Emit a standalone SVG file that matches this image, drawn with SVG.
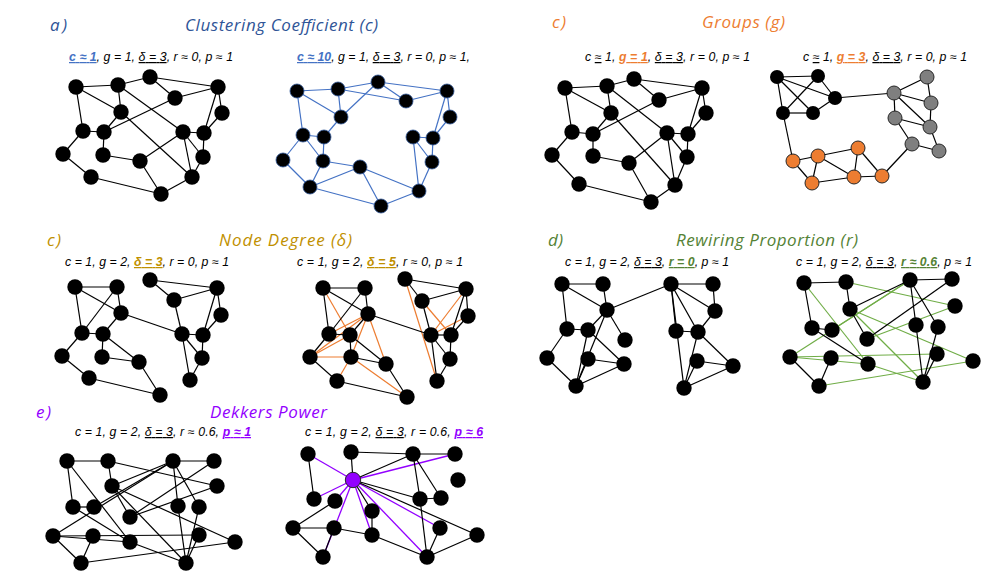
<svg xmlns="http://www.w3.org/2000/svg" width="999" height="585" viewBox="0 0 999 585">
<style>
.bg{fill:#fff}
.t{font-family:"Open Sans","Liberation Sans",sans-serif;font-style:italic;font-size:17px}
.s{font-family:"Liberation Sans",Arial,sans-serif;font-style:italic;font-size:12.3px;fill:#000}
.u{text-decoration:underline}
.b{font-weight:bold;text-decoration:underline}
.blue{fill:#2F5597}.org{fill:#ED7D31}.gold{fill:#BF9000}.grn{fill:#548235}.pur{fill:#9300FF}
.k line{stroke:#000;stroke-width:1.2}
.eb line{stroke:#4472C4;stroke-width:1.2}
.eo line{stroke:#ED7D31;stroke-width:1.2}
.eg line{stroke:#70AD47;stroke-width:1.2}
.ep line{stroke:#9300FF;stroke-width:1.3}
.nodes circle{fill:#000}
.nodes .gr circle{fill:#7F7F7F;stroke:#262626;stroke-width:1}
.nodes .or circle{fill:#ED7D31;stroke:#262626;stroke-width:1}
.nodes .pu circle{fill:#9300FF;stroke:#262626;stroke-width:1}
.nodes .bl circle{stroke:#2F5597;stroke-width:0.8}
</style>
<rect class="bg" x="0" y="0" width="999" height="585"/>

<!-- Titles -->
<g id="titles">
<text class="t blue" x="50" y="31" textLength="17">a)</text>
<text class="t blue" x="185" y="31" textLength="193">Clustering Coefficient (c)</text>
<text class="t org" x="552" y="28" textLength="14">c)</text>
<text class="t org" x="702" y="28" textLength="83">Groups (g)</text>
<text class="t gold" x="47" y="246" textLength="14">c)</text>
<text class="t gold" x="219" y="246" textLength="133">Node Degree (δ)</text>
<text class="t grn" x="548" y="246" textLength="15">d)</text>
<text class="t grn" x="676" y="246" textLength="182">Rewiring Proportion (r)</text>
<text class="t pur" x="36" y="418" textLength="15">e)</text>
<text class="t pur" x="210" y="418" textLength="117">Dekkers Power</text>
</g>

<!-- Subtitles -->
<g id="subtitles">
<text class="s" x="69" y="61" textLength="164"><tspan class="b" style="fill:#4472C4">c ≈ 1</tspan>, g = 1, <tspan class="u">δ = 3</tspan>, r ≈ 0, p ≈ 1</text>
<text class="s" x="297" y="61" textLength="173"><tspan class="b" style="fill:#4472C4">c ≈ 10</tspan>, g = 1, <tspan class="u">δ = 3</tspan>, r = 0, p ≈ 1,</text>
<text class="s" x="585" y="61" textLength="165">c <tspan class="u">≈</tspan> 1, <tspan class="b" style="fill:#ED7D31">g = 1</tspan>, <tspan class="u">δ = 3</tspan>, r = 0, p ≈ 1</text>
<text class="s" x="803" y="61" textLength="164">c <tspan class="u">≈</tspan> 1, <tspan class="b" style="fill:#ED7D31">g = 3</tspan>, <tspan class="u">δ = 3</tspan>, r = 0, p ≈ 1</text>
<text class="s" x="65" y="266" textLength="164">c = 1, g = 2, <tspan class="b" style="fill:#BF9000">δ = 3</tspan>, r = 0, p ≈ 1</text>
<text class="s" x="297" y="266" textLength="166">c = 1, g = 2, <tspan class="b" style="fill:#BF9000">δ = 5</tspan>, r ≈ 0, p ≈ 1</text>
<text class="s" x="565" y="266" textLength="164">c = 1, g = 2, <tspan class="u">δ = 3</tspan>, <tspan class="b" style="fill:#548235">r = 0</tspan>, p ≈ 1</text>
<text class="s" x="796" y="266" textLength="176">c = 1, g = 2, <tspan class="u">δ = 3</tspan>, <tspan class="b" style="fill:#548235">r ≈ 0.6</tspan>, p ≈ 1</text>
<text class="s" x="75" y="436" textLength="176">c = 1, g = 2, <tspan class="u">δ = 3</tspan>, r ≈ 0.6, <tspan class="b" style="fill:#9300FF">p ≈ 1</tspan></text>
<text class="s" x="305" y="436" textLength="178">c = 1, g = 2, <tspan class="u">δ = 3</tspan>, r = 0.6, <tspan class="b" style="fill:#9300FF">p ≈ 6</tspan></text>
</g>

<g id="connectors">
<!-- a left -->
<g class="k" id="edges-a1">
<line x1="76" y1="87" x2="118" y2="85"/><line x1="118" y1="85" x2="150" y2="77"/><line x1="150" y1="77" x2="175" y2="98"/><line x1="150" y1="77" x2="218" y2="87"/><line x1="175" y1="98" x2="218" y2="87"/>
<line x1="76" y1="87" x2="121" y2="112"/><line x1="76" y1="87" x2="83" y2="131"/><line x1="118" y1="85" x2="121" y2="112"/><line x1="118" y1="85" x2="183" y2="132"/><line x1="121" y1="112" x2="104" y2="132"/><line x1="121" y1="112" x2="192" y2="177"/><line x1="104" y1="132" x2="175" y2="98"/>
<line x1="83" y1="131" x2="104" y2="132"/><line x1="83" y1="131" x2="63" y2="154"/><line x1="104" y1="132" x2="103" y2="155"/><line x1="103" y1="155" x2="140" y2="161"/><line x1="140" y1="161" x2="183" y2="132"/><line x1="140" y1="161" x2="161" y2="194"/>
<line x1="63" y1="154" x2="91" y2="177"/><line x1="91" y1="177" x2="161" y2="194"/><line x1="161" y1="194" x2="192" y2="177"/><line x1="192" y1="177" x2="203" y2="157"/><line x1="203" y1="157" x2="204" y2="133"/><line x1="204" y1="133" x2="183" y2="132"/><line x1="183" y1="132" x2="192" y2="177"/><line x1="183" y1="132" x2="203" y2="157"/><line x1="204" y1="133" x2="218" y2="87"/><line x1="218" y1="87" x2="222" y2="113"/><line x1="222" y1="113" x2="204" y2="133"/>
</g>
<!-- a right -->
<g class="eb" id="edges-a2">
<line x1="297" y1="91" x2="338" y2="89"/><line x1="297" y1="91" x2="341" y2="117"/><line x1="297" y1="91" x2="303" y2="135"/><line x1="338" y1="89" x2="378" y2="82"/><line x1="338" y1="89" x2="341" y2="117"/><line x1="338" y1="89" x2="406" y2="101"/><line x1="378" y1="82" x2="406" y2="101"/><line x1="378" y1="82" x2="447" y2="91"/><line x1="378" y1="82" x2="341" y2="117"/><line x1="406" y1="101" x2="447" y2="91"/>
<line x1="447" y1="91" x2="450" y2="117"/><line x1="447" y1="91" x2="433" y2="138"/><line x1="450" y1="117" x2="433" y2="138"/><line x1="341" y1="117" x2="324" y2="137"/><line x1="303" y1="135" x2="324" y2="137"/><line x1="303" y1="135" x2="283" y2="160"/><line x1="303" y1="135" x2="323" y2="161"/><line x1="324" y1="137" x2="323" y2="161"/>
<line x1="283" y1="160" x2="310" y2="187"/><line x1="323" y1="161" x2="310" y2="187"/><line x1="323" y1="161" x2="360" y2="167"/><line x1="360" y1="167" x2="310" y2="187"/><line x1="360" y1="167" x2="381" y2="206"/><line x1="360" y1="167" x2="419" y2="191"/><line x1="310" y1="187" x2="381" y2="206"/><line x1="381" y1="206" x2="419" y2="191"/><line x1="419" y1="191" x2="432" y2="162"/><line x1="432" y1="162" x2="433" y2="138"/><line x1="413" y1="137" x2="433" y2="138"/><line x1="413" y1="137" x2="432" y2="162"/><line x1="413" y1="137" x2="419" y2="191"/>
</g>
<!-- groups left -->
<g class="k" id="edges-g1">
<line x1="565" y1="88" x2="607" y2="86"/><line x1="607" y1="86" x2="634" y2="79"/><line x1="634" y1="79" x2="659" y2="100"/><line x1="634" y1="79" x2="702" y2="88"/><line x1="659" y1="100" x2="702" y2="88"/>
<line x1="565" y1="88" x2="611" y2="113"/><line x1="565" y1="88" x2="572" y2="132"/><line x1="607" y1="86" x2="611" y2="113"/><line x1="607" y1="86" x2="667" y2="133"/><line x1="611" y1="113" x2="593" y2="134"/><line x1="611" y1="113" x2="675" y2="185"/><line x1="593" y1="134" x2="659" y2="100"/>
<line x1="572" y1="132" x2="593" y2="134"/><line x1="572" y1="132" x2="552" y2="155"/><line x1="593" y1="134" x2="593" y2="156"/><line x1="593" y1="156" x2="629" y2="163"/><line x1="629" y1="163" x2="667" y2="133"/><line x1="629" y1="163" x2="651" y2="202"/>
<line x1="552" y1="155" x2="579" y2="184"/><line x1="579" y1="184" x2="651" y2="202"/><line x1="651" y1="202" x2="675" y2="185"/><line x1="675" y1="185" x2="687" y2="157"/><line x1="687" y1="157" x2="688" y2="134"/><line x1="688" y1="134" x2="667" y2="133"/><line x1="667" y1="133" x2="675" y2="185"/><line x1="667" y1="133" x2="687" y2="157"/><line x1="688" y1="134" x2="702" y2="88"/><line x1="702" y1="88" x2="706" y2="113"/><line x1="706" y1="113" x2="688" y2="134"/>
</g>
<!-- groups right -->
<g class="k" id="edges-g3">
<line x1="777" y1="77" x2="818" y2="76"/><line x1="777" y1="77" x2="835" y2="98"/><line x1="777" y1="77" x2="783" y2="113"/><line x1="777" y1="77" x2="813" y2="113"/><line x1="818" y1="76" x2="783" y2="113"/><line x1="818" y1="76" x2="835" y2="98"/><line x1="835" y1="98" x2="813" y2="113"/><line x1="783" y1="113" x2="813" y2="113"/>
<line x1="835" y1="98" x2="894" y2="93"/><line x1="783" y1="113" x2="793" y2="161"/>
<line x1="894" y1="93" x2="927" y2="77"/><line x1="894" y1="93" x2="931" y2="103"/><line x1="894" y1="93" x2="895" y2="118"/><line x1="894" y1="93" x2="930" y2="127"/><line x1="927" y1="77" x2="931" y2="103"/><line x1="931" y1="103" x2="930" y2="127"/><line x1="895" y1="118" x2="930" y2="127"/><line x1="895" y1="118" x2="912" y2="144"/><line x1="930" y1="127" x2="939" y2="151"/><line x1="912" y1="144" x2="939" y2="151"/><line x1="912" y1="144" x2="882" y2="176"/>
<line x1="793" y1="161" x2="818" y2="156"/><line x1="793" y1="161" x2="812" y2="183"/><line x1="818" y1="156" x2="812" y2="183"/><line x1="818" y1="156" x2="858" y2="148"/><line x1="818" y1="156" x2="854" y2="177"/><line x1="858" y1="148" x2="854" y2="177"/><line x1="858" y1="148" x2="882" y2="176"/><line x1="812" y1="183" x2="854" y2="177"/><line x1="854" y1="177" x2="882" y2="176"/>
</g>
<!-- node degree left -->
<g class="k" id="edges-d3">
<line x1="75" y1="287" x2="117" y2="287"/><line x1="75" y1="287" x2="121" y2="313"/><line x1="75" y1="287" x2="82" y2="333"/><line x1="117" y1="287" x2="121" y2="313"/><line x1="117" y1="287" x2="82" y2="333"/><line x1="121" y1="313" x2="103" y2="334"/><line x1="121" y1="313" x2="182" y2="334"/><line x1="82" y1="333" x2="103" y2="334"/><line x1="82" y1="333" x2="62" y2="356"/><line x1="103" y1="334" x2="102" y2="357"/><line x1="103" y1="334" x2="139" y2="362"/><line x1="62" y1="356" x2="89" y2="378"/><line x1="102" y1="357" x2="139" y2="362"/><line x1="89" y1="378" x2="160" y2="395"/><line x1="139" y1="362" x2="160" y2="395"/>
<line x1="150" y1="280" x2="217" y2="288"/><line x1="150" y1="280" x2="174" y2="300"/><line x1="174" y1="300" x2="217" y2="288"/><line x1="174" y1="300" x2="182" y2="334"/><line x1="217" y1="288" x2="203" y2="335"/><line x1="217" y1="288" x2="221" y2="315"/><line x1="221" y1="315" x2="203" y2="335"/><line x1="182" y1="334" x2="203" y2="335"/><line x1="182" y1="334" x2="202" y2="358"/><line x1="182" y1="334" x2="190" y2="380"/><line x1="203" y1="335" x2="202" y2="358"/><line x1="202" y1="358" x2="190" y2="380"/>
</g>
<!-- node degree right -->
<g class="eo" id="edges-d5o">
<line x1="323" y1="288" x2="350" y2="335"/><line x1="368" y1="314" x2="329" y2="334"/><line x1="368" y1="314" x2="310" y2="357"/><line x1="310" y1="357" x2="350" y2="335"/><line x1="310" y1="357" x2="351" y2="357"/><line x1="368" y1="314" x2="351" y2="357"/><line x1="368" y1="314" x2="386" y2="364"/><line x1="351" y1="357" x2="407" y2="397"/><line x1="337" y1="381" x2="351" y2="357"/>
<line x1="405" y1="279" x2="437" y2="381"/><line x1="422" y1="301" x2="451" y2="335"/><line x1="466" y1="289" x2="431" y2="335"/><line x1="468" y1="316" x2="431" y2="335"/>
</g>
<g class="k" id="edges-d5">
<line x1="323" y1="288" x2="365" y2="288"/><line x1="323" y1="288" x2="368" y2="314"/><line x1="323" y1="288" x2="329" y2="334"/><line x1="365" y1="288" x2="368" y2="314"/><line x1="365" y1="288" x2="329" y2="334"/><line x1="368" y1="314" x2="350" y2="335"/><line x1="368" y1="314" x2="431" y2="335"/><line x1="329" y1="334" x2="350" y2="335"/><line x1="329" y1="334" x2="310" y2="357"/><line x1="350" y1="335" x2="351" y2="357"/><line x1="350" y1="335" x2="386" y2="364"/><line x1="310" y1="357" x2="337" y2="381"/><line x1="351" y1="357" x2="386" y2="364"/><line x1="337" y1="381" x2="407" y2="397"/><line x1="386" y1="364" x2="407" y2="397"/>
<line x1="405" y1="279" x2="466" y2="289"/><line x1="405" y1="279" x2="422" y2="301"/><line x1="422" y1="301" x2="466" y2="289"/><line x1="422" y1="301" x2="431" y2="335"/><line x1="466" y1="289" x2="451" y2="335"/><line x1="466" y1="289" x2="468" y2="316"/><line x1="468" y1="316" x2="451" y2="335"/><line x1="431" y1="335" x2="451" y2="335"/><line x1="431" y1="335" x2="450" y2="359"/><line x1="431" y1="335" x2="437" y2="381"/><line x1="451" y1="335" x2="450" y2="359"/><line x1="450" y1="359" x2="437" y2="381"/>
</g>
<!-- rewiring left -->
<g class="k" id="edges-r0">
<line x1="562" y1="284" x2="603" y2="284"/><line x1="562" y1="284" x2="607" y2="310"/><line x1="562" y1="284" x2="567" y2="329"/><line x1="603" y1="284" x2="607" y2="310"/><line x1="607" y1="310" x2="588" y2="330"/><line x1="607" y1="310" x2="625" y2="340"/><line x1="607" y1="310" x2="576" y2="386"/><line x1="607" y1="310" x2="671" y2="284"/><line x1="567" y1="329" x2="588" y2="330"/><line x1="567" y1="329" x2="547" y2="358"/><line x1="588" y1="330" x2="624" y2="364"/><line x1="588" y1="330" x2="576" y2="386"/><line x1="547" y1="358" x2="576" y2="386"/><line x1="588" y1="359" x2="624" y2="364"/><line x1="588" y1="359" x2="576" y2="386"/><line x1="576" y1="386" x2="624" y2="364"/>
<line x1="671" y1="284" x2="713" y2="284"/><line x1="671" y1="284" x2="715" y2="311"/><line x1="671" y1="284" x2="676" y2="331"/><line x1="671" y1="284" x2="698" y2="332"/><line x1="671" y1="284" x2="684" y2="388"/><line x1="713" y1="284" x2="715" y2="311"/><line x1="715" y1="311" x2="698" y2="332"/><line x1="676" y1="331" x2="698" y2="332"/><line x1="698" y1="332" x2="733" y2="366"/><line x1="698" y1="332" x2="684" y2="388"/><line x1="697" y1="361" x2="733" y2="366"/><line x1="697" y1="361" x2="684" y2="388"/><line x1="733" y1="366" x2="684" y2="388"/>
</g>
<!-- rewiring right -->
<g class="eg" id="edges-r6g">
<line x1="804" y1="283" x2="868" y2="364"/><line x1="846" y1="282" x2="955" y2="306"/><line x1="850" y1="309" x2="973" y2="361"/><line x1="832" y1="330" x2="910" y2="280"/><line x1="790" y1="357" x2="910" y2="280"/><line x1="867" y1="339" x2="955" y2="306"/><line x1="790" y1="357" x2="937" y2="354"/><line x1="819" y1="386" x2="973" y2="361"/><line x1="868" y1="364" x2="923" y2="382"/><line x1="790" y1="357" x2="868" y2="364"/><line x1="850" y1="309" x2="923" y2="382"/>
</g>
<g class="k" id="edges-r6">
<line x1="804" y1="283" x2="846" y2="282"/><line x1="804" y1="283" x2="812" y2="328"/><line x1="846" y1="282" x2="850" y2="309"/><line x1="850" y1="309" x2="867" y2="339"/><line x1="812" y1="328" x2="832" y2="330"/><line x1="812" y1="328" x2="868" y2="364"/><line x1="790" y1="357" x2="819" y2="386"/><line x1="831" y1="358" x2="819" y2="386"/><line x1="910" y1="280" x2="952" y2="279"/><line x1="910" y1="280" x2="916" y2="325"/><line x1="910" y1="280" x2="938" y2="327"/><line x1="850" y1="309" x2="910" y2="280"/><line x1="952" y1="279" x2="867" y2="339"/><line x1="916" y1="325" x2="923" y2="382"/><line x1="938" y1="327" x2="923" y2="382"/><line x1="937" y1="354" x2="923" y2="382"/>
</g>
<!-- dekkers left -->
<g class="k" id="edges-p1">
<line x1="67" y1="461" x2="108" y2="461"/><line x1="67" y1="461" x2="73" y2="507"/><line x1="108" y1="461" x2="112" y2="486"/><line x1="112" y1="486" x2="130" y2="517"/><line x1="73" y1="507" x2="94" y2="507"/><line x1="73" y1="507" x2="130" y2="542"/><line x1="53" y1="536" x2="81" y2="563"/><line x1="93" y1="536" x2="81" y2="563"/><line x1="173" y1="461" x2="214" y2="461"/><line x1="173" y1="461" x2="178" y2="506"/><line x1="173" y1="461" x2="199" y2="507"/><line x1="112" y1="486" x2="173" y2="461"/><line x1="214" y1="461" x2="130" y2="517"/><line x1="178" y1="506" x2="186" y2="563"/><line x1="199" y1="507" x2="186" y2="563"/><line x1="199" y1="535" x2="186" y2="563"/>
<line x1="67" y1="461" x2="130" y2="542"/><line x1="108" y1="461" x2="217" y2="486"/><line x1="112" y1="486" x2="235" y2="542"/><line x1="94" y1="507" x2="173" y2="461"/><line x1="53" y1="536" x2="173" y2="461"/><line x1="130" y1="517" x2="217" y2="486"/><line x1="53" y1="536" x2="199" y2="535"/><line x1="81" y1="563" x2="235" y2="542"/><line x1="130" y1="542" x2="186" y2="563"/><line x1="53" y1="536" x2="130" y2="542"/><line x1="112" y1="486" x2="186" y2="563"/>
</g>
<!-- dekkers right -->
<g class="ep" id="edges-p6p">
<line x1="353" y1="480" x2="308" y2="454"/><line x1="353" y1="480" x2="455" y2="454"/><line x1="353" y1="480" x2="314" y2="499"/><line x1="353" y1="480" x2="335" y2="501"/><line x1="353" y1="480" x2="323" y2="557"/><line x1="353" y1="480" x2="372" y2="535"/><line x1="353" y1="480" x2="440" y2="528"/><line x1="353" y1="480" x2="427" y2="557"/>
</g>
<g class="k" id="edges-p6">
<line x1="308" y1="454" x2="314" y2="499"/><line x1="351" y1="452" x2="353" y2="480"/><line x1="351" y1="452" x2="413" y2="454"/><line x1="353" y1="480" x2="413" y2="454"/><line x1="413" y1="454" x2="455" y2="454"/><line x1="413" y1="454" x2="420" y2="499"/><line x1="413" y1="454" x2="441" y2="498"/><line x1="420" y1="499" x2="441" y2="498"/><line x1="420" y1="499" x2="427" y2="557"/><line x1="353" y1="480" x2="372" y2="511"/><line x1="353" y1="480" x2="420" y2="499"/><line x1="353" y1="480" x2="477" y2="535"/><line x1="335" y1="501" x2="293" y2="528"/><line x1="293" y1="528" x2="334" y2="528"/><line x1="293" y1="528" x2="323" y2="557"/><line x1="334" y1="528" x2="323" y2="557"/><line x1="334" y1="528" x2="372" y2="535"/><line x1="372" y1="511" x2="372" y2="535"/><line x1="372" y1="535" x2="427" y2="557"/><line x1="440" y1="528" x2="427" y2="557"/><line x1="477" y1="535" x2="427" y2="557"/>
</g>
</g>

<g class="nodes" id="nodes">
<!-- a left -->
<g id="a1-1"><circle cx="76" cy="87" r="7.7"/></g><g id="a1-2"><circle cx="118" cy="85" r="7.7"/></g><g id="a1-3"><circle cx="150" cy="77" r="7.7"/></g><g id="a1-4"><circle cx="175" cy="98" r="7.7"/></g><g id="a1-5"><circle cx="218" cy="87" r="7.7"/></g><g id="a1-6"><circle cx="222" cy="113" r="7.7"/></g><g id="a1-7"><circle cx="121" cy="112" r="7.7"/></g><g id="a1-8"><circle cx="83" cy="131" r="7.7"/></g><g id="a1-9"><circle cx="104" cy="132" r="7.7"/></g><g id="a1-10"><circle cx="183" cy="132" r="7.7"/></g><g id="a1-11"><circle cx="204" cy="133" r="7.7"/></g><g id="a1-12"><circle cx="63" cy="154" r="7.7"/></g><g id="a1-13"><circle cx="103" cy="155" r="7.7"/></g><g id="a1-14"><circle cx="140" cy="161" r="7.7"/></g><g id="a1-15"><circle cx="203" cy="157" r="7.7"/></g><g id="a1-16"><circle cx="91" cy="177" r="7.7"/></g><g id="a1-17"><circle cx="192" cy="177" r="7.7"/></g><g id="a1-18"><circle cx="161" cy="194" r="7.7"/></g>
<!-- a right -->
<g class="bl"><g id="a2-1"><circle cx="297" cy="91" r="7"/></g><g id="a2-2"><circle cx="338" cy="89" r="7"/></g><g id="a2-3"><circle cx="378" cy="82" r="7"/></g><g id="a2-4"><circle cx="406" cy="101" r="7"/></g><g id="a2-5"><circle cx="447" cy="91" r="7"/></g><g id="a2-6"><circle cx="450" cy="117" r="7"/></g><g id="a2-7"><circle cx="341" cy="117" r="7"/></g><g id="a2-8"><circle cx="303" cy="135" r="7"/></g><g id="a2-9"><circle cx="324" cy="137" r="7"/></g><g id="a2-10"><circle cx="413" cy="137" r="7"/></g><g id="a2-11"><circle cx="433" cy="138" r="7"/></g><g id="a2-12"><circle cx="283" cy="160" r="7"/></g><g id="a2-13"><circle cx="323" cy="161" r="7"/></g><g id="a2-14"><circle cx="360" cy="167" r="7"/></g><g id="a2-15"><circle cx="432" cy="162" r="7"/></g><g id="a2-16"><circle cx="310" cy="187" r="7"/></g><g id="a2-17"><circle cx="419" cy="191" r="7"/></g><g id="a2-18"><circle cx="381" cy="206" r="7"/></g></g>
<!-- groups left -->
<g id="g1-1"><circle cx="565" cy="88" r="7.7"/></g><g id="g1-2"><circle cx="607" cy="86" r="7.7"/></g><g id="g1-3"><circle cx="634" cy="79" r="7.7"/></g><g id="g1-4"><circle cx="659" cy="100" r="7.7"/></g><g id="g1-5"><circle cx="702" cy="88" r="7.7"/></g><g id="g1-6"><circle cx="706" cy="113" r="7.7"/></g><g id="g1-7"><circle cx="611" cy="113" r="7.7"/></g><g id="g1-8"><circle cx="572" cy="132" r="7.7"/></g><g id="g1-9"><circle cx="593" cy="134" r="7.7"/></g><g id="g1-10"><circle cx="667" cy="133" r="7.7"/></g><g id="g1-11"><circle cx="688" cy="134" r="7.7"/></g><g id="g1-12"><circle cx="552" cy="155" r="7.7"/></g><g id="g1-13"><circle cx="593" cy="156" r="7.7"/></g><g id="g1-14"><circle cx="629" cy="163" r="7.7"/></g><g id="g1-15"><circle cx="687" cy="157" r="7.7"/></g><g id="g1-16"><circle cx="579" cy="184" r="7.7"/></g><g id="g1-17"><circle cx="675" cy="185" r="7.7"/></g><g id="g1-18"><circle cx="651" cy="202" r="7.7"/></g>
<!-- groups right -->
<g id="g3-1"><circle cx="777" cy="77" r="7"/></g><g id="g3-2"><circle cx="818" cy="76" r="7"/></g><g id="g3-3"><circle cx="835" cy="98" r="7"/></g><g id="g3-4"><circle cx="783" cy="113" r="7"/></g><g id="g3-5"><circle cx="813" cy="113" r="7"/></g>
<g class="gr"><g id="g3-6"><circle cx="894" cy="93" r="7"/></g><g id="g3-7"><circle cx="927" cy="77" r="7"/></g><g id="g3-8"><circle cx="931" cy="103" r="7"/></g><g id="g3-9"><circle cx="895" cy="118" r="7"/></g><g id="g3-10"><circle cx="930" cy="127" r="7"/></g><g id="g3-11"><circle cx="912" cy="144" r="7"/></g><g id="g3-12"><circle cx="939" cy="151" r="7"/></g></g>
<g class="or"><g id="g3-13"><circle cx="793" cy="161" r="7"/></g><g id="g3-14"><circle cx="818" cy="156" r="7"/></g><g id="g3-15"><circle cx="858" cy="148" r="7"/></g><g id="g3-16"><circle cx="812" cy="183" r="7"/></g><g id="g3-17"><circle cx="854" cy="177" r="7"/></g><g id="g3-18"><circle cx="882" cy="176" r="7"/></g></g>
<!-- node degree left -->
<g id="d3-1"><circle cx="75" cy="287" r="7.7"/></g><g id="d3-2"><circle cx="117" cy="287" r="7.7"/></g><g id="d3-3"><circle cx="121" cy="313" r="7.7"/></g><g id="d3-4"><circle cx="82" cy="333" r="7.7"/></g><g id="d3-5"><circle cx="103" cy="334" r="7.7"/></g><g id="d3-6"><circle cx="62" cy="356" r="7.7"/></g><g id="d3-7"><circle cx="102" cy="357" r="7.7"/></g><g id="d3-8"><circle cx="139" cy="362" r="7.7"/></g><g id="d3-9"><circle cx="89" cy="378" r="7.7"/></g><g id="d3-10"><circle cx="160" cy="395" r="7.7"/></g><g id="d3-11"><circle cx="150" cy="280" r="7.7"/></g><g id="d3-12"><circle cx="217" cy="288" r="7.7"/></g><g id="d3-13"><circle cx="174" cy="300" r="7.7"/></g><g id="d3-14"><circle cx="221" cy="315" r="7.7"/></g><g id="d3-15"><circle cx="182" cy="334" r="7.7"/></g><g id="d3-16"><circle cx="203" cy="335" r="7.7"/></g><g id="d3-17"><circle cx="202" cy="358" r="7.7"/></g><g id="d3-18"><circle cx="190" cy="380" r="7.7"/></g>
<!-- node degree right -->
<g id="d5-1"><circle cx="323" cy="288" r="7.7"/></g><g id="d5-2"><circle cx="365" cy="288" r="7.7"/></g><g id="d5-3"><circle cx="368" cy="314" r="7.7"/></g><g id="d5-4"><circle cx="329" cy="334" r="7.7"/></g><g id="d5-5"><circle cx="350" cy="335" r="7.7"/></g><g id="d5-6"><circle cx="310" cy="357" r="7.7"/></g><g id="d5-7"><circle cx="351" cy="357" r="7.7"/></g><g id="d5-8"><circle cx="386" cy="364" r="7.7"/></g><g id="d5-9"><circle cx="337" cy="381" r="7.7"/></g><g id="d5-10"><circle cx="407" cy="397" r="7.7"/></g><g id="d5-11"><circle cx="405" cy="279" r="7.7"/></g><g id="d5-12"><circle cx="466" cy="289" r="7.7"/></g><g id="d5-13"><circle cx="422" cy="301" r="7.7"/></g><g id="d5-14"><circle cx="468" cy="316" r="7.7"/></g><g id="d5-15"><circle cx="431" cy="335" r="7.7"/></g><g id="d5-16"><circle cx="451" cy="335" r="7.7"/></g><g id="d5-17"><circle cx="450" cy="359" r="7.7"/></g><g id="d5-18"><circle cx="437" cy="381" r="7.7"/></g>
<!-- rewiring left -->
<g id="r0-1"><circle cx="562" cy="284" r="7.7"/></g><g id="r0-2"><circle cx="603" cy="284" r="7.7"/></g><g id="r0-3"><circle cx="607" cy="310" r="7.7"/></g><g id="r0-4"><circle cx="567" cy="329" r="7.7"/></g><g id="r0-5"><circle cx="588" cy="330" r="7.7"/></g><g id="r0-6"><circle cx="625" cy="340" r="7.7"/></g><g id="r0-7"><circle cx="547" cy="358" r="7.7"/></g><g id="r0-8"><circle cx="588" cy="359" r="7.7"/></g><g id="r0-9"><circle cx="624" cy="364" r="7.7"/></g><g id="r0-10"><circle cx="576" cy="386" r="7.7"/></g><g id="r0-11"><circle cx="671" cy="284" r="7.7"/></g><g id="r0-12"><circle cx="713" cy="284" r="7.7"/></g><g id="r0-13"><circle cx="715" cy="311" r="7.7"/></g><g id="r0-14"><circle cx="676" cy="331" r="7.7"/></g><g id="r0-15"><circle cx="698" cy="332" r="7.7"/></g><g id="r0-16"><circle cx="697" cy="361" r="7.7"/></g><g id="r0-17"><circle cx="733" cy="366" r="7.7"/></g><g id="r0-18"><circle cx="684" cy="388" r="7.7"/></g>
<!-- rewiring right -->
<g id="r6-1"><circle cx="804" cy="283" r="7.7"/></g><g id="r6-2"><circle cx="846" cy="282" r="7.7"/></g><g id="r6-3"><circle cx="850" cy="309" r="7.7"/></g><g id="r6-4"><circle cx="812" cy="328" r="7.7"/></g><g id="r6-5"><circle cx="832" cy="330" r="7.7"/></g><g id="r6-6"><circle cx="867" cy="339" r="7.7"/></g><g id="r6-7"><circle cx="790" cy="357" r="7.7"/></g><g id="r6-8"><circle cx="831" cy="358" r="7.7"/></g><g id="r6-9"><circle cx="868" cy="364" r="7.7"/></g><g id="r6-10"><circle cx="819" cy="386" r="7.7"/></g><g id="r6-11"><circle cx="910" cy="280" r="7.7"/></g><g id="r6-12"><circle cx="952" cy="279" r="7.7"/></g><g id="r6-13"><circle cx="955" cy="306" r="7.7"/></g><g id="r6-14"><circle cx="916" cy="325" r="7.7"/></g><g id="r6-15"><circle cx="938" cy="327" r="7.7"/></g><g id="r6-16"><circle cx="937" cy="354" r="7.7"/></g><g id="r6-17"><circle cx="973" cy="361" r="7.7"/></g><g id="r6-18"><circle cx="923" cy="382" r="7.7"/></g>
<!-- dekkers left -->
<g id="p1-1"><circle cx="67" cy="461" r="7.7"/></g><g id="p1-2"><circle cx="108" cy="461" r="7.7"/></g><g id="p1-3"><circle cx="112" cy="486" r="7.7"/></g><g id="p1-4"><circle cx="73" cy="507" r="7.7"/></g><g id="p1-5"><circle cx="94" cy="507" r="7.7"/></g><g id="p1-6"><circle cx="130" cy="517" r="7.7"/></g><g id="p1-7"><circle cx="53" cy="536" r="7.7"/></g><g id="p1-8"><circle cx="93" cy="536" r="7.7"/></g><g id="p1-9"><circle cx="130" cy="542" r="7.7"/></g><g id="p1-10"><circle cx="81" cy="563" r="7.7"/></g><g id="p1-11"><circle cx="173" cy="461" r="7.7"/></g><g id="p1-12"><circle cx="214" cy="461" r="7.7"/></g><g id="p1-13"><circle cx="217" cy="486" r="7.7"/></g><g id="p1-14"><circle cx="178" cy="506" r="7.7"/></g><g id="p1-15"><circle cx="199" cy="507" r="7.7"/></g><g id="p1-16"><circle cx="199" cy="535" r="7.7"/></g><g id="p1-17"><circle cx="235" cy="542" r="7.7"/></g><g id="p1-18"><circle cx="186" cy="563" r="7.7"/></g>
<!-- dekkers right -->
<g id="p6-1"><circle cx="308" cy="454" r="7.7"/></g><g id="p6-2"><circle cx="351" cy="452" r="7.7"/></g><g class="pu" id="p6-3"><circle cx="353" cy="480" r="7.7"/></g><g id="p6-4"><circle cx="413" cy="454" r="7.7"/></g><g id="p6-5"><circle cx="455" cy="454" r="7.7"/></g><g id="p6-6"><circle cx="458" cy="480" r="7.7"/></g><g id="p6-7"><circle cx="314" cy="499" r="7.7"/></g><g id="p6-8"><circle cx="335" cy="501" r="7.7"/></g><g id="p6-9"><circle cx="372" cy="511" r="7.7"/></g><g id="p6-10"><circle cx="420" cy="499" r="7.7"/></g><g id="p6-11"><circle cx="441" cy="498" r="7.7"/></g><g id="p6-12"><circle cx="293" cy="528" r="7.7"/></g><g id="p6-13"><circle cx="334" cy="528" r="7.7"/></g><g id="p6-14"><circle cx="372" cy="535" r="7.7"/></g><g id="p6-15"><circle cx="440" cy="528" r="7.7"/></g><g id="p6-16"><circle cx="477" cy="535" r="7.7"/></g><g id="p6-17"><circle cx="323" cy="557" r="7.7"/></g><g id="p6-18"><circle cx="427" cy="557" r="7.7"/></g>
</g>
</svg>
